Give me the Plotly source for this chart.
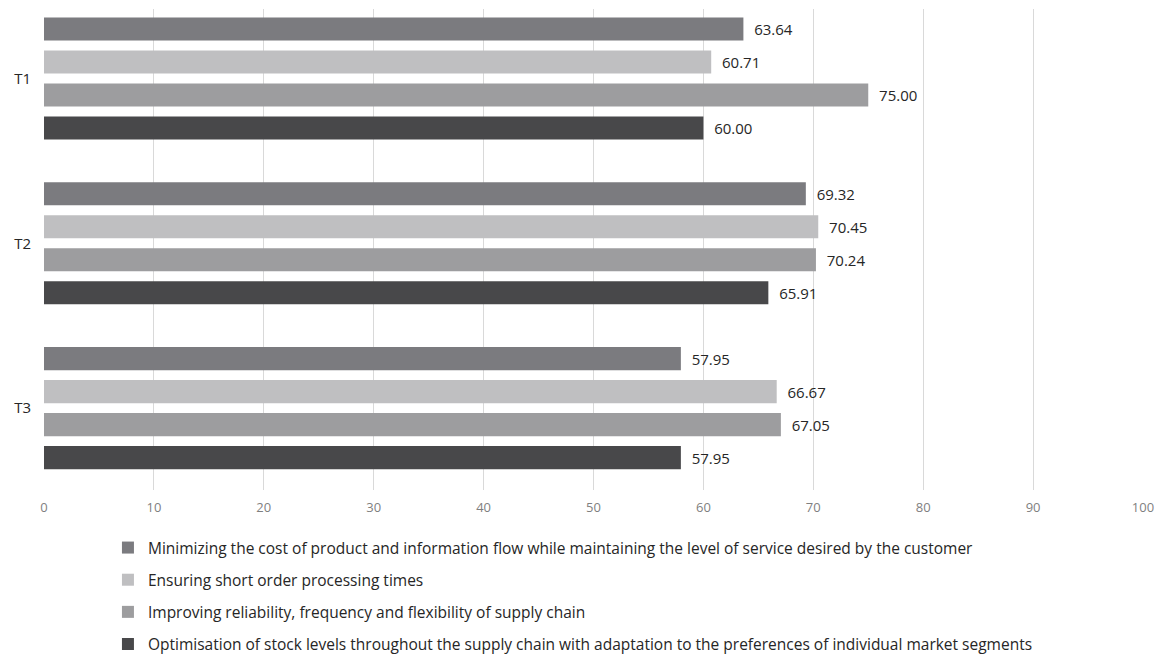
import plotly.graph_objects as go

categories = ["T1", "T2", "T3"]
series_names = [
    "Minimizing the cost of product and information flow while maintaining the level of service desired by the customer",
    "Ensuring short order processing times",
    "Improving reliability, frequency and flexibility of supply chain",
    "Optimisation of stock levels throughout the supply chain with adaptation to the preferences of individual market segments",
]
minimizing = [63.64, 69.32, 57.95]
ensuring = [60.71, 70.45, 66.67]
improving = [75.00, 70.24, 67.05]
optimisation = [60.00, 65.91, 57.95]
x_ticks = [0, 10, 20, 30, 40, 50, 60, 70, 80, 90, 100]

colors = ["#7b7b7f", "#bfbfc1", "#9d9d9f", "#48484a"]
values = [minimizing, ensuring, improving, optimisation]

FONT = "Open Sans"
fig = go.Figure()
for i, (name, vals) in enumerate(zip(series_names, values)):
    fig.add_trace(go.Bar(
        y=categories, x=vals, name=name, orientation="h",
        marker=dict(color=colors[i], line=dict(width=0)),
        text=[f"\u00a0\u00a0{v:.2f}" for v in vals], textposition="outside",
        textfont=dict(family=FONT, size=15, color="#262626"),
        cliponaxis=False, legendgroup=f"g{i}",
    ))

fig.update_layout(
    width=1157, height=657,
    margin=dict(l=44, r=14, t=9, b=167, autoexpand=False),
    paper_bgcolor="white", plot_bgcolor="white",
    barmode="group", bargap=0.199, bargroupgap=0.30,
    font=dict(family=FONT, size=14, color="#404040"),
    xaxis=dict(range=[0, 100], tickvals=x_ticks, showgrid=True,
               gridcolor="#d9d9d9", gridwidth=1, zeroline=False,
               showline=False, ticks="", automargin=False,
               ticklabelstandoff=8,
               tickfont=dict(family=FONT, size=13, color="#7f7f7f")),
    yaxis=dict(autorange=False, range=[2.497, -0.422], showgrid=False,
               zeroline=False, showline=False, ticks="", ticklabelstandoff=12,
               automargin=False,
               tickfont=dict(family=FONT, size=15, color="#262626")),
    legend=dict(orientation="v", xref="container", yref="container",
                x=0.0933, xanchor="left", y=0.1918, yanchor="top",
                font=dict(family=FONT, size=15.5, color="#262626"),
                tracegroupgap=9, itemwidth=30, bgcolor="rgba(0,0,0,0)"),
    showlegend=True,
)
fig.write_html("out.html")
